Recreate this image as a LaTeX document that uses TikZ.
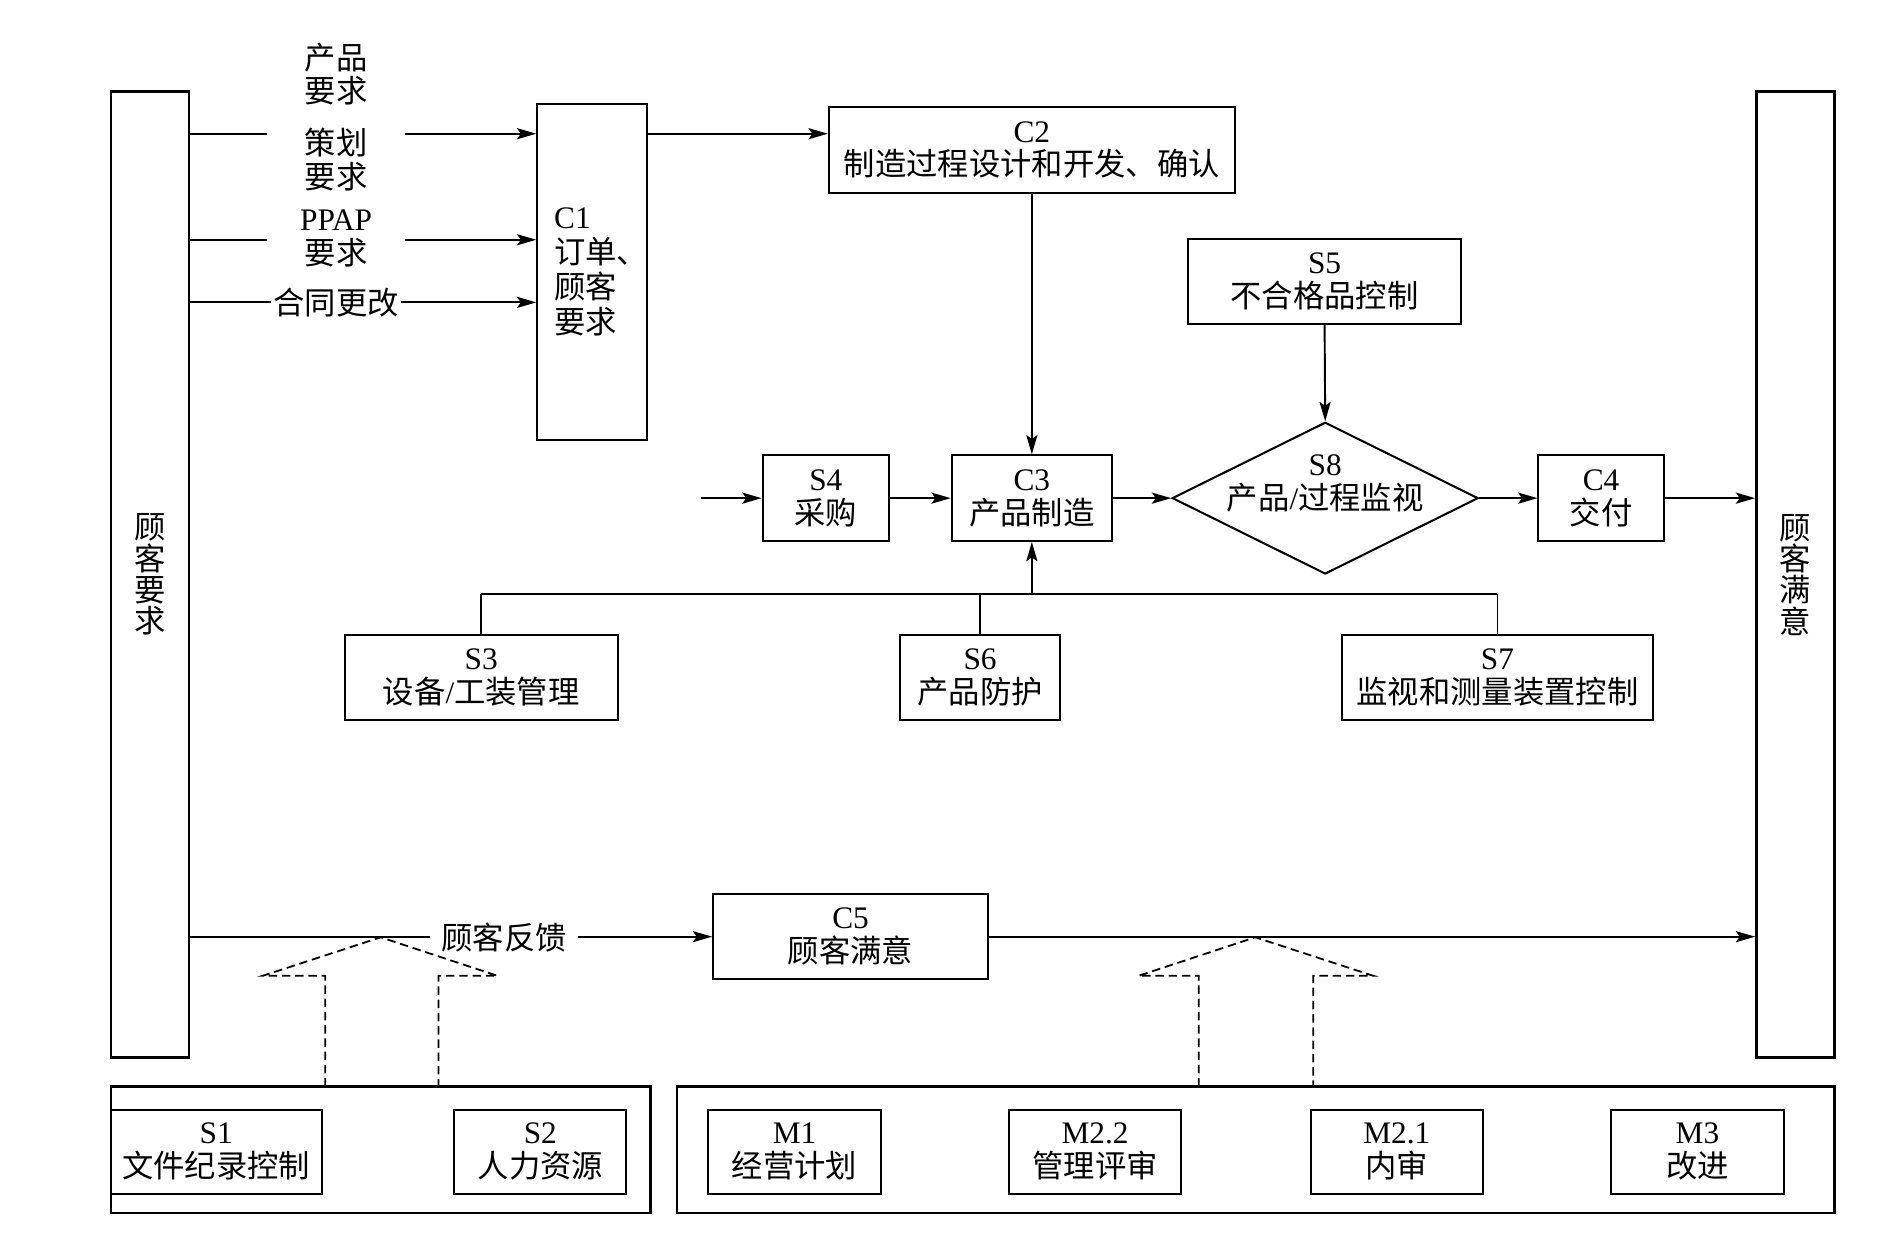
\documentclass[tikz,border=0pt]{standalone}
\usepackage{fontspec}
\setmainfont{Liberation Serif}
\newfontfamily\cjk{Noto Sans CJK SC}
\usetikzlibrary{arrows.meta,shapes.geometric}
\newcommand\zht[1]{{\cjk #1}}
\begin{document}
\begin{tikzpicture}[x=0.5pt,y=-0.5pt,
  every node/.style={font=\fontsize{13}{14}\selectfont},
  box/.style={draw,line width=0.85pt,align=center,inner sep=0pt},
  big/.style={draw,line width=1.1pt,inner sep=0pt},
  conn/.style={line width=0.8pt},
  arr/.style={conn,-{Stealth[length=8pt,width=4.6pt,inset=1.6pt]}},
  dsh/.style={line width=0.75pt,dash pattern=on 3.5pt off 2pt},
  lab/.style={fill=white,inner sep=0pt,align=center}]
\useasboundingbox (0,0) rectangle (1568,1031);
% side boxes
\node[big,align=center,minimum width=32.5pt,minimum height=401pt,font=\fontsize{13}{13}\selectfont\cjk] (lbox) at (124.5,477) {顾\\客\\要\\求};
\node[big,align=center,minimum width=32.5pt,minimum height=401pt,font=\fontsize{13}{13}\selectfont\cjk] (rbox) at (1490.5,477) {顾\\客\\满\\意};
% C1
\node[box,align=left,minimum width=45.5pt,minimum height=139.5pt,text width=31.5pt,inner xsep=7pt,font=\fontsize{13}{14.5}\selectfont] (C1) at (491.5,225.5) {C1\\\zht{订单、}\\\zht{顾客}\\\zht{要求}};
\node[box,minimum width=168.5pt,minimum height=35.5pt] (C2) at (856.5,124.5) {C2\\\zht{制造过程设计和开发、确认}};
\node[box,minimum width=113.5pt,minimum height=35.5pt] (S5) at (1099.5,233.5) {S5\\\zht{不合格品控制}};
\node[draw,diamond,line width=0.85pt,minimum width=127pt,minimum height=63pt,inner sep=0pt] (S8) at (1100,413.5) {};
\node[align=center,inner sep=0pt] (S8t) at (1100,401) {S8\\\zht{产品}/\zht{过程监视}};
\node[box,minimum width=52.5pt,minimum height=35.5pt] (S4) at (685.5,413.5) {S4\\\zht{采购}};
\node[box,minimum width=66.5pt,minimum height=35.5pt] (C3) at (856.5,413.5) {C3\\\zht{产品制造}};
\node[box,minimum width=52pt,minimum height=35.5pt] (C4) at (1329,413.5) {C4\\\zht{交付}};
\node[box,minimum width=113.5pt,minimum height=35.5pt] (S3) at (399.5,562.5) {S3\\\zht{设备}/\zht{工装管理}};
\node[box,minimum width=66.5pt,minimum height=35.5pt] (S6) at (813.5,562.5) {S6\\\zht{产品防护}};
\node[box,minimum width=129pt,minimum height=35.5pt] (S7) at (1243,562.5) {S7\\\zht{监视和测量装置控制}};
\node[box,minimum width=114pt,minimum height=35.5pt] (C5) at (706,777.5) {C5\\\zht{顾客满意}};
% bottom containers
\node[big,minimum width=224pt,minimum height=52.5pt] (lcont) at (316,954.5) {};
\node[big,minimum width=480.5pt,minimum height=52.5pt] (rcont) at (1042.5,954.5) {};
\node[box,minimum width=87.5pt,minimum height=35pt] (S1) at (179.5,956) {S1\\\zht{文件纪录控制}};
\node[box,minimum width=71.5pt,minimum height=35pt] (S2) at (448.5,956) {S2\\\zht{人力资源}};
\node[box,minimum width=71.5pt,minimum height=35pt] (M1) at (659.5,956) {M1\\\zht{经营计划}};
\node[box,minimum width=71.5pt,minimum height=35pt] (M22) at (909,956) {M2.2\\\zht{管理评审}};
\node[box,minimum width=71.5pt,minimum height=35pt] (M21) at (1159.5,956) {M2.1\\\zht{内审}};
\node[box,minimum width=71.5pt,minimum height=35pt] (M3) at (1409,956) {M3\\\zht{改进}};
% helper coordinates
\coordinate (r1) at (0,111);
\coordinate (r2) at (0,199);
\coordinate (r3) at (0,251);
\coordinate (bus) at (0,493);
\coordinate (s4in) at (582,413.5);
% connectors
\draw[arr] (lbox.east |- r1) -- (C1.west |- r1);
\draw[arr] (lbox.east |- r2) -- (C1.west |- r2);
\draw[arr] (lbox.east |- r3) -- (C1.west |- r3);
\draw[arr] (C1.east |- r1) -- (C2.west |- r1);
\draw[arr] (C2.south) -- (C3.north);
\draw[arr] (S5.south) -- (S8.north);
\draw[arr] (s4in) -- (S4.west);
\draw[arr] (S4.east) -- (C3.west);
\draw[arr] (C3.east) -- (S8.west);
\draw[arr] (S8.east) -- (C4.west);
\draw[arr] (C4.east) -- (rbox.west |- C4.east);
\draw[conn] (S3.north) -- (S3.north |- bus);
\draw[line width=1pt] (S3.north |- bus) -- (S7.north |- bus);
\draw[conn] (S7.north) -- (S7.north |- bus);
\draw[conn] (S6.north) -- (S6.north |- bus);
\draw[arr] (C3.south |- bus) -- (C3.south);
\draw[arr] (lbox.east |- C5.west) -- (C5.west);
\draw[arr] (C5.east) -- (rbox.west |- C5.east);
% hollow dashed arrows
\draw[dsh] (270,902) -- (270,810) -- (218,810) -- (316,778) -- (413,810) -- (364,810) -- (364,902);
\draw[dsh] (995,902) -- (995,810) -- (945,810) -- (1042,778) -- (1140,810) -- (1090,810) -- (1090,902);
% labels on lines
\node[align=center,inner sep=0pt] (l0) at (279,61.5) {\zht{产品}\\\zht{要求}};
\node[lab,minimum width=57.5pt] (l1) at (279,132.5) {\zht{策划}\\\zht{要求}};
\node[lab,minimum width=57.5pt] (l2) at (279,198) {PPAP\\\zht{要求}};
\node[lab,minimum width=54pt] (l3) at (279,251) {\zht{合同更改}};
\node[lab,minimum width=61.5pt] (l4) at (418.5,778) {\zht{顾客反馈}};
\end{tikzpicture}
\end{document}
